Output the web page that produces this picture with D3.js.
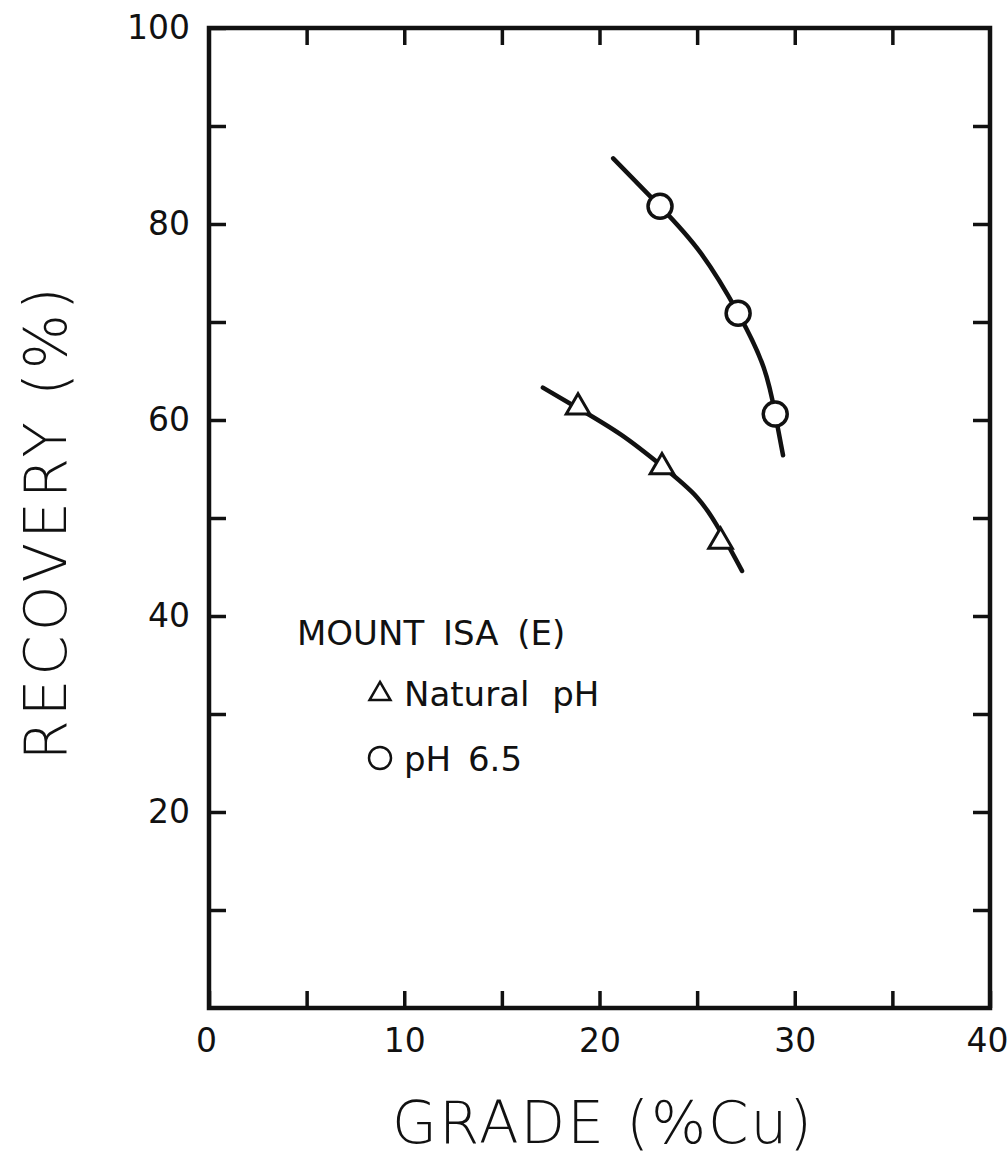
<!DOCTYPE html>
<html>
<head>
<meta charset="utf-8">
<title>Recovery vs grade</title>
<script src="https://cdnjs.cloudflare.com/ajax/libs/d3/7.8.5/d3.min.js"></script>
<style>
  body { margin: 0; background: #fff; }
  svg text { font-family: "DejaVu Sans", sans-serif; fill: #111; }
</style>
</head>
<body>
<script>
// points
const natGrade = [18.9, 23.2, 26.2]
const natRec = [61.3, 55.2, 47.6]
const ph65Grade = [23.1, 27.1, 29.0]
const ph65Rec = [81.8, 70.9, 60.6]

// hand-drawn curves, traced
const natCurveGrade = [17.1, 18.9, 21.1, 23.2, 25.0, 26.2, 27.3]
const natCurveRec = [63.3, 61.2, 58.5, 55.3, 52.1, 48.6, 44.6]
const phCurveGrade = [20.7, 23.1, 25.2, 27.1, 28.4, 29.0, 29.4]
const phCurveRec = [86.7, 81.8, 77.0, 70.9, 65.4, 60.6, 56.4]

const xTicks = [0, 5, 10, 15, 20, 25, 30, 35, 40]
const xLabels = [0, 10, 20, 30, 40]
const yTicks = [0, 10, 20, 30, 40, 50, 60, 70, 80, 90, 100]
const yLabels = [20, 40, 60, 80, 100]

const width = 1008, height = 1160
const pLeft = 209, pRight = 990, pTop = 28, pBottom = 1008

const svg = d3.select("body").append("svg")
    .attr("width", width)
    .attr("height", height)

const x = d3.scaleLinear().domain([0, 40]).range([pLeft, pRight])
const y = d3.scaleLinear().domain([0, 100]).range([pBottom, pTop])

const tick = 17

function styleAxis(g) {
    g.select(".domain").remove()
    g.selectAll(".tick line").attr("stroke", "#111").attr("stroke-width", 3.5)
    g.selectAll(".tick text").style("font-size", "33px")
}

svg.append("g")
    .attr("transform", `translate(0,${pBottom})`)
    .call(d3.axisBottom(x).tickValues(xTicks).tickSize(-tick).tickPadding(21)
        .tickFormat(d => xLabels.includes(d) ? d : ""))
    .call(styleAxis)
    .call(g => g.selectAll(".tick text").filter(d => d === 40).attr("dx", -3))
    .call(g => g.selectAll(".tick text").filter(d => d === 0).attr("dx", -3))

svg.append("g")
    .attr("transform", `translate(0,${pTop})`)
    .call(d3.axisTop(x).tickValues(xTicks.slice(1, -1)).tickSize(-tick).tickFormat(""))
    .call(styleAxis)

svg.append("g")
    .attr("transform", `translate(${pLeft},0)`)
    .call(d3.axisLeft(y).tickValues(yTicks.slice(1)).tickSize(-tick).tickPadding(19)
        .tickFormat(d => yLabels.includes(d) ? d : ""))
    .call(styleAxis)

svg.append("g")
    .attr("transform", `translate(${pRight},0)`)
    .call(d3.axisRight(y).tickValues(yTicks.slice(1, -1)).tickSize(-tick).tickFormat(""))
    .call(styleAxis)

// frame
svg.append("rect")
    .attr("x", pLeft).attr("y", pTop)
    .attr("width", pRight - pLeft).attr("height", pBottom - pTop)
    .attr("fill", "none").attr("stroke", "#111").attr("stroke-width", 4.5)

const line = d3.line()
    .x(d => x(d[0]))
    .y(d => y(d[1]))
    .curve(d3.curveNatural)

svg.append("path")
    .attr("d", line(d3.zip(natCurveGrade, natCurveRec)))
    .attr("fill", "none").attr("stroke", "#111").attr("stroke-width", 4.5)
    .attr("stroke-linecap", "round")

svg.append("path")
    .attr("d", line(d3.zip(phCurveGrade, phCurveRec)))
    .attr("fill", "none").attr("stroke", "#111").attr("stroke-width", 4.5)
    .attr("stroke-linecap", "round")

const tri = d3.symbol().type(d3.symbolTriangle).size(240)

svg.selectAll(".tri")
    .data(d3.zip(natGrade, natRec))
    .enter().append("path")
    .attr("class", "tri")
    .attr("d", tri)
    .attr("transform", d => `translate(${x(d[0])},${y(d[1])})`)
    .attr("fill", "#fff").attr("stroke", "#111").attr("stroke-width", 3)

svg.selectAll(".circ")
    .data(d3.zip(ph65Grade, ph65Rec))
    .enter().append("circle")
    .attr("class", "circ")
    .attr("cx", d => x(d[0]))
    .attr("cy", d => y(d[1]))
    .attr("r", 12)
    .attr("fill", "#fff").attr("stroke", "#111").attr("stroke-width", 3.5)

// legend
svg.append("text")
    .attr("x", 297).attr("y", 645)
    .style("font-size", "34px")
    .style("word-spacing", "8px")
    .text("MOUNT ISA (E)")

svg.append("path")
    .attr("d", d3.symbol().type(d3.symbolTriangle).size(190))
    .attr("transform", "translate(380,694)")
    .attr("fill", "#fff").attr("stroke", "#111").attr("stroke-width", 2.5)
svg.append("text")
    .attr("x", 404).attr("y", 706)
    .style("font-size", "34px")
    .style("word-spacing", "12px")
    .text("Natural pH")

svg.append("circle")
    .attr("cx", 380).attr("cy", 758).attr("r", 11)
    .attr("fill", "#fff").attr("stroke", "#111").attr("stroke-width", 2.5)
svg.append("text")
    .attr("x", 404).attr("y", 771)
    .style("font-size", "34px")
    .style("word-spacing", "6px")
    .text("pH 6.5")

// axis titles
svg.append("text")
    .attr("transform", `translate(66,${(pTop + pBottom) / 2 + 4}) rotate(-90)`)
    .attr("text-anchor", "middle")
    .style("font-size", "58px")
    .style("font-weight", 300)
    .style("letter-spacing", "4px")
    .text("RECOVERY (%)")

svg.append("text")
    .attr("x", 603).attr("y", 1143)
    .attr("text-anchor", "middle")
    .style("font-size", "58px")
    .style("font-weight", 300)
    .style("letter-spacing", "2px")
    .text("GRADE (%Cu)")
</script>
</body>
</html>
